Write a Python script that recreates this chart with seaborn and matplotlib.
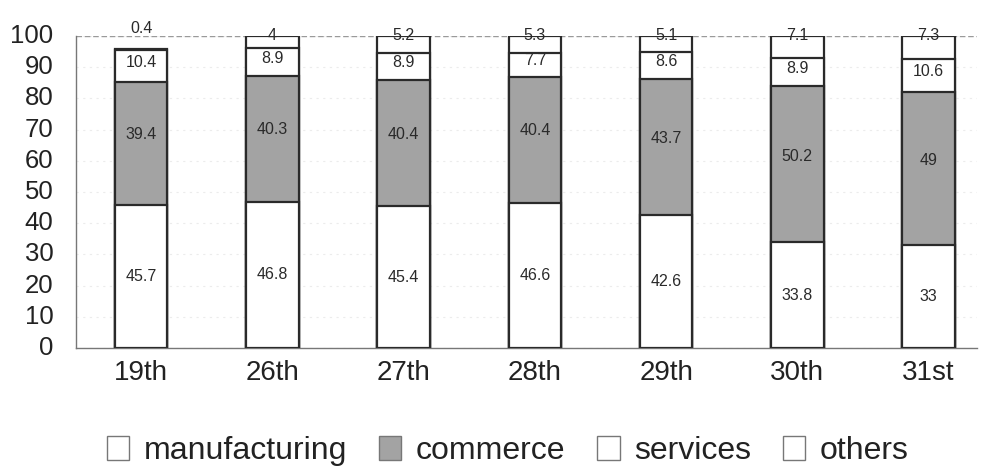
import matplotlib
matplotlib.use("Agg")
import matplotlib.pyplot as plt
import matplotlib.patches as mpatches
import numpy as np
import pandas as pd
import seaborn as sns

# Share of each sector by session
sessions = ["19th", "26th", "27th", "28th", "29th", "30th", "31st"]
manufacturing = [45.7, 46.8, 45.4, 46.6, 42.6, 33.8, 33.0]
commerce = [39.4, 40.3, 40.4, 40.4, 43.7, 50.2, 49.0]
services = [10.4, 8.9, 8.9, 7.7, 8.6, 8.9, 10.6]
others = [0.4, 4.0, 5.2, 5.3, 5.1, 7.1, 7.3]

sectors = ["manufacturing", "commerce", "services", "others"]
fills = {"manufacturing": "#ffffff", "commerce": "#a3a3a3",
         "services": "#ffffff", "others": "#ffffff"}

sns.set_theme(style="white")
plt.rcParams["font.family"] = ["Liberation Sans", "DejaVu Sans"]

df = pd.DataFrame({"session": sessions, "manufacturing": manufacturing,
                   "commerce": commerce, "services": services, "others": others})
cum = df[sectors].cumsum(axis=1)

fig = plt.figure(figsize=(9.82, 4.74), dpi=100)
ax = fig.add_axes([0.077, 0.266, 0.918, 0.658])

# stacked bars: draw cumulative totals from the top layer down
for sec in reversed(sectors):
    sns.barplot(x=df["session"], y=cum[sec], color=fills[sec], width=0.4,
                edgecolor="#2a2a2a", linewidth=1.6, saturation=1, ax=ax,
                zorder=3)

# value labels
label_kw = dict(ha="center", va="center", fontsize=11.5, color="#2a2a2a", zorder=5)
for i in range(len(sessions)):
    m, c, s, o = manufacturing[i], commerce[i], services[i], others[i]
    ax.text(i, m * 0.5, f"{m:g}", **label_kw)
    ax.text(i, m + c - 0.55 * c + 5, f"{c:g}", **label_kw)
    ax.text(i, m + c + s * 0.5 + 1.2, f"{s:g}", **label_kw)
    top = m + c + s + o
    if o < 2:
        ax.text(i, top + 6.5, f"{o:g}", clip_on=False, **label_kw)
    else:
        ax.text(i, top + 0.3, f"{o:g}", clip_on=False, **label_kw)

ax.set_ylim(0, 100)
ax.set_xlim(-0.5, 6.37)
ax.set_yticks(range(0, 101, 10))
ax.set_xlabel("")
ax.set_ylabel("")
ax.yaxis.grid(True, color="#ececec", linestyle=(0, (2, 4)), linewidth=0.8)
ax.axhline(100, color="#9a9a9a", linestyle=(0, (4, 2)), linewidth=1.0, zorder=1)
ax.set_axisbelow(True)
ax.tick_params(axis="y", length=0, pad=16, labelsize=18.5, labelcolor="#222222")
ax.tick_params(axis="x", length=0, pad=9, labelsize=20, labelcolor="#222222")
for t in ax.get_yticklabels():
    t.set_verticalalignment("center")

sns.despine(ax=ax, top=True, right=True)
ax.spines["left"].set_color("#777777")
ax.spines["bottom"].set_color("#777777")
ax.spines["left"].set_linewidth(1.0)
ax.spines["bottom"].set_linewidth(1.0)

handles = [mpatches.Patch(facecolor=fills[s], edgecolor="#777777", linewidth=1.0,
                          label=s) for s in sectors]
fig.legend(handles=handles, loc="center", bbox_to_anchor=(0.517, 0.048), ncol=4,
           frameon=False, fontsize=23, handlelength=0.7, handleheight=0.75,
           handletextpad=0.45, columnspacing=1.0, labelcolor="#222222")

fig.savefig("out.png", dpi=100)
